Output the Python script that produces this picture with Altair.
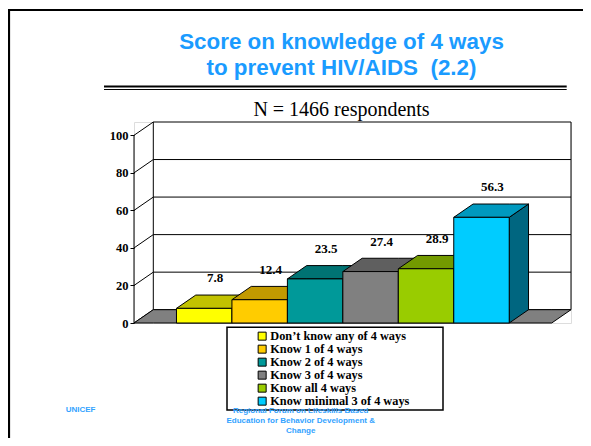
import altair as alt
import pandas as pd

# ---------------- data ----------------
categories = ["Don\u2019t know any of 4 ways", "Know 1 of 4 ways", "Know 2 of 4 ways",
              "Know 3 of 4 ways", "Know all 4 ways", "Know minimal 3 of 4 ways"]
values = [7.8, 12.4, 23.5, 27.4, 28.9, 56.3]
front_colors = ["#FFFF00", "#FFCC00", "#009999", "#808080", "#99CC00", "#00CCFF"]
top_colors = ["#C2C200", "#C29A00", "#007373", "#5F5F5F", "#739A00", "#0099BF"]
side_colors = ["#8F8F00", "#8F7200", "#005555", "#474747", "#567300", "#006680"]
y_ticks = [0, 20, 40, 60, 80, 100]
title_lines = ["Score on knowledge of 4 ways", "to prevent HIV/AIDS\u00a0 (2.2)"]
subtitle_text = "N = 1466 respondents"
footer_left = "UNICEF"
footer_center = "Regional Forum on Lifeskills Based\nEducation for Behavior Development &\nChange"

# ---------------- 3-D geometry (data units) ----------------
GAP = 0.766      # floor margin on each side, in bar widths
DX = 0.348       # depth offset along x, in bar widths
DY = 7.09        # depth offset along y, in value units
FLOOR = len(values) + 2 * GAP
XMAX = FLOOR + DX
YMAX = 100 + DY
W, H = 437, 201

xs = alt.Scale(domain=[0, XMAX], nice=False, zero=False)
ys = alt.Scale(domain=[0, YMAX], nice=False, zero=False)
yax = alt.Axis(values=y_ticks, domain=False, grid=False, ticks=True, tickSize=4,
               tickColor="black", tickWidth=1, labelFont="Liberation Serif",
               labelFontWeight="bold", labelFontSize=12.5, labelColor="black",
               labelPadding=2, title=None)

bars = pd.DataFrame({
    "cat": categories,
    "value": values,
    "x0": [GAP + i for i in range(len(values))],
    "x1": [GAP + i + 1 for i in range(len(values))],
    "xc": [GAP + i + 0.5 for i in range(len(values))],
    "base": [0.0] * len(values),
})

top_rows, side_rows = [], []
for i, (c, v) in enumerate(zip(categories, values)):
    x0, x1 = GAP + i, GAP + i + 1
    for x, lo, hi in [(x0, v, v), (x0 + DX, v, v + DY), (x1, v, v + DY), (x1 + DX, v + DY, v + DY)]:
        top_rows.append({"cat": c, "x": x, "lo": lo, "hi": hi, "fill": top_colors[i]})
    for x, lo, hi in [(x1, 0, v), (x1 + DX, DY, v + DY)]:
        side_rows.append({"cat": c, "x": x, "lo": lo, "hi": hi, "fill": side_colors[i]})
tops = pd.DataFrame(top_rows)
sides = pd.DataFrame(side_rows)

floor = pd.DataFrame({"x": [0, DX, FLOOR, FLOOR + DX],
                      "lo": [0, 0, 0, DY],
                      "hi": [0, DY, DY, DY]})

wall = pd.DataFrame({"x0": [DX], "x1": [XMAX], "y0": [DY], "y1": [YMAX]})
grid = pd.DataFrame({"t": [t + DY for t in y_ticks[1:-1]], "x0": DX, "x1": XMAX})
diag = pd.DataFrame({"t": y_ticks, "t2": [t + DY for t in y_ticks], "x0": 0.0, "x1": DX})
front_axis = pd.DataFrame({"x": [0.0], "y0": [0.0], "y1": [100.0]})
one = pd.DataFrame({"k": [0]})

X = lambda f: alt.X(f, scale=xs, axis=None)
Y = lambda f: alt.Y(f, scale=ys, axis=yax)

# ---------------- layers ----------------
back_wall = alt.Chart(wall).mark_rect(fill="white", stroke="black", strokeWidth=1).encode(
    x=X("x0:Q"), x2="x1:Q", y=Y("y0:Q"), y2="y1:Q")

grid_lines = alt.Chart(grid).mark_rule(color="black", strokeWidth=1).encode(
    x=X("x0:Q"), x2="x1:Q", y=Y("t:Q"))

diagonals = alt.Chart(diag).mark_rule(color="black", strokeWidth=1).encode(
    x=X("x0:Q"), x2="x1:Q", y=Y("t:Q"), y2="t2:Q")

axis_line = alt.Chart(front_axis).mark_rule(color="black", strokeWidth=1).encode(
    x=X("x:Q"), y=Y("y0:Q"), y2="y1:Q")

floor_layer = alt.Chart(floor).mark_area(fill="#808080", stroke="black", strokeWidth=1).encode(
    x=X("x:Q"), y=Y("lo:Q"), y2="hi:Q")

side_layer = alt.Chart(sides).mark_area(stroke="black", strokeWidth=1, opacity=1).encode(
    x=X("x:Q"), y=Y("lo:Q"), y2="hi:Q",
    detail="cat:N", color=alt.Color("fill:N", scale=None))

top_layer = alt.Chart(tops).mark_area(stroke="black", strokeWidth=1, opacity=1).encode(
    x=X("x:Q"), y=Y("lo:Q"), y2="hi:Q",
    detail="cat:N", color=alt.Color("fill:N", scale=None))

front_layer = alt.Chart(bars).mark_rect(stroke="black", strokeWidth=1, opacity=1).encode(
    x=X("x0:Q"), x2="x1:Q", y=Y("base:Q"), y2="value:Q",
    color=alt.Color("cat:N", sort=categories,
                    scale=alt.Scale(domain=categories, range=front_colors),
                    legend=alt.Legend(title=None, orient="none", legendX=122, legendY=208,
                                      padding=0, labelFont="Liberation Serif",
                                      labelFontWeight="bold", labelFontSize=12.3,
                                      labelColor="black", symbolType="square",
                                      symbolSize=64, symbolStrokeColor="black",
                                      symbolStrokeWidth=1, labelOffset=2,
                                      rowPadding=0, labelLimit=400)))

value_labels = alt.Chart(bars).mark_text(
    font="Liberation Serif", fontWeight="bold", fontSize=13, color="black",
    dx=11, dy=-30, baseline="middle", align="center").encode(
    x=X("xc:Q"), y=Y("value:Q"),
    text=alt.Text("value:Q", format=".1f"))

# slide decorations (pixel positions relative to the plot area)
def hrule(x_a, x_b, y, w):
    return alt.Chart(one).mark_rule(color="black", strokeWidth=w).encode(
        x=alt.value(x_a), x2=alt.value(x_b), y=alt.value(y), y2=alt.value(y))

frame_top = hrule(-126, 449, -112, 2.2)
frame_left = alt.Chart(one).mark_rule(color="black", strokeWidth=2.2).encode(
    x=alt.value(-125), x2=alt.value(-125), y=alt.value(-113), y2=alt.value(316))
underline_thick = hrule(-30, 432.7, -35.5, 2)
underline_thin = hrule(-30, 432.7, -32.5, 1)

legend_box = alt.Chart(one).mark_rect(fill="white", stroke="black", strokeWidth=1.5).encode(
    x=alt.value(93), x2=alt.value(309), y=alt.value(205.3), y2=alt.value(288))

unicef = alt.Chart(one).mark_text(
    text=footer_left, font="Liberation Sans", fontWeight="bold", fontSize=8,
    color="#33A3FF", align="left", baseline="middle").encode(
    x=alt.value(-68.3), y=alt.value(288))

forum = alt.Chart(one).mark_text(
    text=footer_center, lineBreak="\n", lineHeight=10, font="Liberation Sans",
    fontWeight="bold", fontSize=8, color="#33A3FF", align="center",
    baseline="middle").encode(
    x=alt.value(166.7), y=alt.value(288.5))

chart = alt.layer(
    back_wall, grid_lines, diagonals, axis_line, floor_layer,
    side_layer, top_layer, front_layer, value_labels,
    frame_top, frame_left, underline_thick, underline_thin,
    legend_box, unicef, forum,
).properties(
    width=W, height=H,
    autosize=alt.AutoSizeParams(type="none"),
    padding={"left": 126, "top": 114, "right": 12, "bottom": 115},
    title=alt.TitleParams(
        text=title_lines, subtitle=subtitle_text, frame="group",
        font="Liberation Sans", fontSize=22.4, fontWeight="bold", color="#1A9BFF",
        lineHeight=25.5, subtitleFont="Liberation Serif", subtitleFontSize=20,
        subtitleColor="black", subtitleFontWeight="normal", subtitlePadding=21,
        anchor="middle", dx=-11, dy=116, offset=4),
).configure_view(stroke=None).configure(background="white")

chart.save("out.html", embed_options={"renderer": "svg", "actions": False})
